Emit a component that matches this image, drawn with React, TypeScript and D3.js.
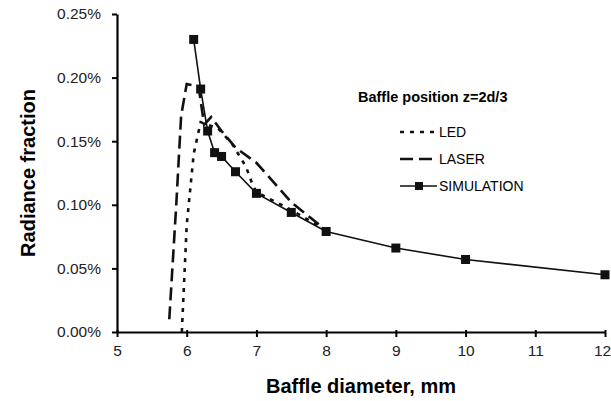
import React, { useEffect, useRef } from 'react'
import * as d3 from 'd3'

// baffle diameter (mm) / radiance fraction (%)
const simX = [6.1, 6.2, 6.3, 6.4, 6.5, 6.7, 7.0, 7.5, 8.0, 9.0, 10.0, 12.0]
const simY = [0.23, 0.191, 0.158, 0.141, 0.138, 0.126, 0.109, 0.094, 0.079, 0.066, 0.057, 0.045]

const laserX = [5.75, 5.85, 5.92, 6.0, 6.17, 6.25, 6.35, 6.5, 6.7, 7.0, 7.5, 8.0]
const laserY = [0.01, 0.1, 0.17, 0.195, 0.193, 0.163, 0.169, 0.158, 0.145, 0.133, 0.102, 0.08]

const ledX = [5.93, 6.0, 6.1, 6.2, 6.3, 6.45, 6.65, 6.85, 6.95, 7.0, 7.5, 8.0]
const ledY = [0.0, 0.084, 0.14, 0.165, 0.163, 0.16, 0.148, 0.13, 0.115, 0.11, 0.096, 0.08]

const xTicks = [5, 6, 7, 8, 9, 10, 11, 12]
const yTicks = [0, 0.05, 0.1, 0.15, 0.2, 0.25]

const legendLabels = ['LED', 'LASER', 'SIMULATION']

const W = 611
const H = 401
const margin = { top: 14, right: 6, bottom: 69, left: 117 }
const font = '"Liberation Sans", Arial, sans-serif'

export default function App() {
  const ref = useRef<SVGSVGElement>(null)

  useEffect(() => {
    const svg = d3.select(ref.current)
    svg.selectAll('*').remove()

    const x = d3.scaleLinear().domain([5, 12]).range([margin.left, W - margin.right])
    const y = d3.scaleLinear().domain([0, 0.25]).range([H - margin.bottom, margin.top])

    // axes
    const gx = svg.append('g')
      .attr('transform', `translate(0,${H - margin.bottom})`)
      .call(d3.axisBottom(x).tickValues(xTicks).tickSize(5).tickSizeOuter(0).tickFormat(d3.format('d')))
    gx.select('.domain').attr('stroke-width', 2.2)
    gx.selectAll('.tick line').attr('stroke-width', 2).attr('y1', -2)
    gx.selectAll('.tick text').attr('font-family', font).attr('font-size', 15.5).attr('fill', '#222').attr('dy', '1.05em')
    gx.selectAll('.tick:last-of-type text').attr('dx', -3)

    const gy = svg.append('g')
      .attr('transform', `translate(${margin.left},0)`)
      .call(d3.axisLeft(y).tickValues(yTicks).tickSize(5).tickSizeOuter(0).tickPadding(11).tickFormat(d => (+d).toFixed(2) + '%'))
    gy.select('.domain').attr('stroke-width', 2.2)
    gy.selectAll('.tick line').attr('stroke-width', 2)
    gy.selectAll('.tick text').attr('font-family', font).attr('font-size', 15.5).attr('fill', '#222')

    // titles
    svg.append('text')
      .attr('x', 361).attr('y', 393)
      .attr('text-anchor', 'middle')
      .attr('font-family', font).attr('font-size', 20).attr('font-weight', 'bold')
      .text('Baffle diameter, mm')
    svg.append('text')
      .attr('transform', `translate(35,173) rotate(-90)`)
      .attr('text-anchor', 'middle')
      .attr('font-family', font).attr('font-size', 20).attr('font-weight', 'bold')
      .text('Radiance fraction')

    const line = d3.line<[number, number]>().x(d => x(d[0])).y(d => y(d[1]))

    const series = [
      { xs: ledX, ys: ledY, dash: '4,6', width: 2.6 },
      { xs: laserX, ys: laserY, dash: '13,6', width: 2.6 },
      { xs: simX, ys: simY, dash: null, width: 1.6 },
    ]

    series.forEach(s => {
      const pts = s.xs.map((v, i) => [v, s.ys[i]] as [number, number])
      svg.append('path')
        .attr('d', line(pts))
        .attr('fill', 'none')
        .attr('stroke', '#111')
        .attr('stroke-width', s.width)
        .attr('stroke-dasharray', s.dash)
    })

    svg.append('g').selectAll('rect')
      .data(simX.map((v, i) => [v, simY[i]]))
      .enter().append('rect')
      .attr('x', d => x(d[0]) - 4.5)
      .attr('y', d => y(d[1]) - 4.5)
      .attr('width', 9).attr('height', 9)
      .attr('fill', '#111')

    // legend
    svg.append('text')
      .attr('x', 358).attr('y', 102)
      .attr('font-family', font).attr('font-size', 14.5).attr('font-weight', 'bold')
      .text('Baffle position z=2d/3')

    const lg = svg.append('g')
    legendLabels.forEach((lab, i) => {
      const ly = 132 + i * 27
      const s = series[i]
      lg.append('line')
        .attr('x1', 400).attr('x2', 437).attr('y1', ly).attr('y2', ly)
        .attr('stroke', '#111').attr('stroke-width', s.width)
        .attr('stroke-dasharray', s.dash)
      if (i === 2) {
        lg.append('rect').attr('x', 415).attr('y', ly - 4).attr('width', 8).attr('height', 8).attr('fill', '#111')
      }
      lg.append('text')
        .attr('x', 439).attr('y', ly + 5)
        .attr('font-family', font).attr('font-size', 14)
        .text(lab)
    })
  }, [])

  return (
    <svg ref={ref} width={W} height={H} style={{ position: 'absolute', left: 0, top: 0, background: '#fff' }} />
  )
}
